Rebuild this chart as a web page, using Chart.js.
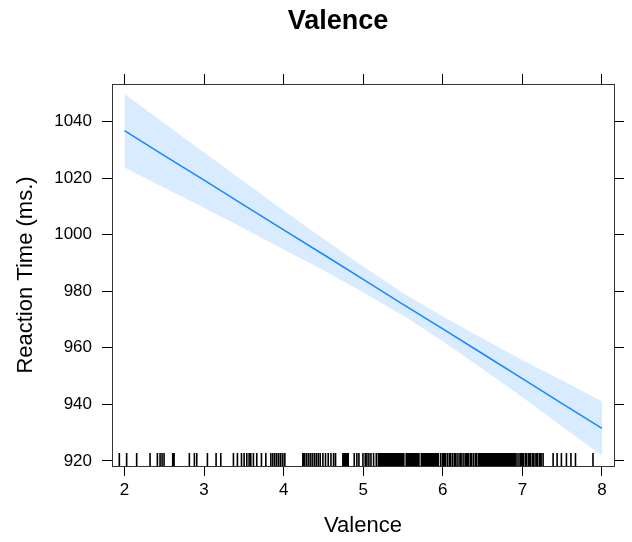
<!DOCTYPE html>
<html>
<head>
<meta charset="utf-8">
<script src="https://cdn.jsdelivr.net/npm/chart.js@4"></script>
<style>
  body { margin: 0; background: #fff; }
  canvas { display: block; }
</style>
</head>
<body>
<canvas id="grafica" width="632" height="542"></canvas>
<script>
// valores
var valence = [2, 2.5, 3, 3.5, 4, 4.5, 5, 5.5, 6, 6.5, 7, 7.5, 8];
var fitRT = [1036.8, 1028.0, 1019.3, 1010.5, 1001.7, 993.0, 984.2, 975.4, 966.7, 957.9, 949.1, 940.3, 931.5];
var upperRT = [1049.8, 1039.4, 1029.1, 1018.8, 1008.6, 998.6, 988.8, 979.4, 971.1, 963.3, 955.7, 948.4, 941.1];
var lowerRT = [1023.8, 1016.6, 1009.5, 1002.2, 994.8, 987.4, 979.6, 971.4, 962.3, 952.5, 942.5, 932.2, 921.9];

var xTicks = [2, 3, 4, 5, 6, 7, 8];
var yTicks = [920, 940, 960, 980, 1000, 1020, 1040];

// rug (valores con jitter)
var rug = [1.935, 2.027, 2.153, 2.321, 2.413, 2.447, 2.472, 2.497, 2.606, 2.623,
  2.815, 2.878, 2.908, 3.042, 3.151, 3.21, 3.369, 3.419, 3.47, 3.503, 3.537, 3.566,
  3.587, 3.62, 3.662, 3.721, 3.776, 3.839, 3.864, 3.889, 3.914, 3.939, 3.964, 3.99, 4.015,
  4.241, 4.258, 4.283, 4.308, 4.333, 4.358, 4.384, 4.409, 4.434, 4.459, 4.493, 4.526,
  4.56, 4.594, 4.627, 4.652,
  4.744, 4.761, 4.778, 4.795, 4.811,
  4.887, 4.92, 4.946, 4.996, 5.025, 5.046, 5.071, 5.097, 5.13, 5.164,
  5.19, 5.20, 5.215, 5.23, 5.24, 5.255, 5.27, 5.28, 5.295, 5.31, 5.32, 5.335, 5.35,
  5.36, 5.375, 5.39, 5.40, 5.415, 5.43, 5.44, 5.455, 5.47, 5.48, 5.495, 5.51,
  5.54, 5.555, 5.565, 5.58, 5.595, 5.605, 5.62, 5.635, 5.645, 5.66, 5.675, 5.685, 5.70,
  5.73, 5.745, 5.755, 5.77, 5.785, 5.795, 5.81, 5.825, 5.835, 5.85, 5.865, 5.875, 5.89,
  5.905, 5.915, 5.93, 5.945,
  5.975, 6.0, 6.02, 6.035, 6.06, 6.085, 6.1, 6.125, 6.15, 6.165, 6.19, 6.215, 6.23,
  6.255, 6.28, 6.3, 6.32, 6.345, 6.36, 6.385, 6.41, 6.425, 6.45, 6.47,
  6.485, 6.5, 6.51, 6.525, 6.54, 6.55, 6.565, 6.58, 6.59, 6.605, 6.62, 6.64, 6.655,
  6.665, 6.68, 6.695, 6.705, 6.72, 6.735, 6.75, 6.765, 6.775, 6.79, 6.81, 6.825, 6.835,
  6.85, 6.865, 6.875, 6.89, 6.905, 6.92,
  6.945, 6.97, 6.99, 7.01, 7.035, 7.055, 7.08, 7.1, 7.125, 7.145, 7.17, 7.19, 7.215,
  7.235, 7.26,
  7.386, 7.436, 7.49, 7.553, 7.61, 7.667, 7.887];

var fuente = 'Liberation Sans, Arial, sans-serif';

function puntos(ys) {
  return valence.map(function (v, i) { return { x: v, y: ys[i] }; });
}

// dibuja el rug y el titulo principal
var extras = {
  id: 'extras',
  afterDatasetsDraw: function (chart) {
    var ctx = chart.ctx;
    var area = chart.chartArea;
    var xs = chart.scales.x;
    ctx.save();
    ctx.beginPath();
    ctx.rect(area.left, area.top, area.right - area.left, area.bottom - area.top);
    ctx.clip();
    ctx.strokeStyle = '#000';
    ctx.lineWidth = 1.6;
    ctx.beginPath();
    rug.forEach(function (v) {
      var px = xs.getPixelForValue(v);
      ctx.moveTo(px, area.bottom);
      ctx.lineTo(px, area.bottom - 13);
    });
    ctx.stroke();
    ctx.restore();

    ctx.save();
    ctx.fillStyle = '#000';
    ctx.font = 'bold 27px ' + fuente;
    ctx.textAlign = 'center';
    ctx.textBaseline = 'alphabetic';
    ctx.fillText('Valence', (chart.width + 44) / 2, 29);
    ctx.restore();
  }
};

function ejeComun(pos, min, max, ticks, conLabels) {
  return {
    type: 'linear',
    position: pos,
    display: true,
    min: min,
    max: max,
    afterBuildTicks: function (scale) {
      scale.ticks = ticks.map(function (v) { return { value: v }; });
    },
    grid: {
      drawOnChartArea: false,
      drawTicks: true,
      tickLength: 10,
      tickColor: '#000',
      tickWidth: 1
    },
    border: { display: true, color: '#333', width: 1 },
    ticks: {
      display: conLabels,
      color: '#000',
      font: { family: fuente, size: 17 },
      maxRotation: 0,
      autoSkip: false,
      callback: function (v) { return String(v); }
    }
  };
}

var xMin = 1.843, xMax = 8.151;
var yMin = 918.2, yMax = 1053.3;

var sx = ejeComun('bottom', xMin, xMax, xTicks, true);
sx.ticks.padding = 4;
sx.title = { display: true, text: 'Valence', color: '#000', font: { family: fuente, size: 22 }, padding: { top: 0, bottom: 3 } };
sx.afterFit = function (s) { s.height = 76; };

var sx2 = ejeComun('top', xMin, xMax, xTicks, false);
sx2.afterFit = function (s) { s.height = 84; };

var sy = ejeComun('left', yMin, yMax, yTicks, true);
sy.ticks.padding = 10;
sy.title = { display: true, text: 'Reaction Time (ms.)', color: '#000', font: { family: fuente, size: 22 }, padding: { top: 13, bottom: 0 } };
sy.afterFit = function (s) { s.width = 112; };

var sy2 = ejeComun('right', yMin, yMax, yTicks, false);
sy2.afterFit = function (s) { s.width = 18; };

var ctx = document.getElementById('grafica').getContext('2d');
var chart = new Chart(ctx, {
  type: 'line',
  data: {
    datasets: [
      {
        label: 'upper',
        data: puntos(upperRT),
        borderWidth: 0,
        pointRadius: 0,
        backgroundColor: 'rgba(0,128,255,0.15)',
        fill: '+1',
        xAxisID: 'x', yAxisID: 'y'
      },
      {
        label: 'lower',
        data: puntos(lowerRT),
        borderWidth: 0,
        pointRadius: 0,
        fill: false,
        xAxisID: 'x', yAxisID: 'y'
      },
      {
        label: 'fit',
        data: puntos(fitRT),
        borderColor: '#1a88ff',
        borderWidth: 1.5,
        pointRadius: 0,
        fill: false,
        xAxisID: 'x', yAxisID: 'y'
      }
    ]
  },
  options: {
    responsive: false,
    animation: false,
    layout: { padding: 0 },
    plugins: {
      legend: { display: false },
      title: { display: false },
      tooltip: { enabled: false }
    },
    scales: { x: sx, x2: sx2, y: sy, y2: sy2 }
  },
  plugins: [extras]
});
</script>
</body>
</html>
